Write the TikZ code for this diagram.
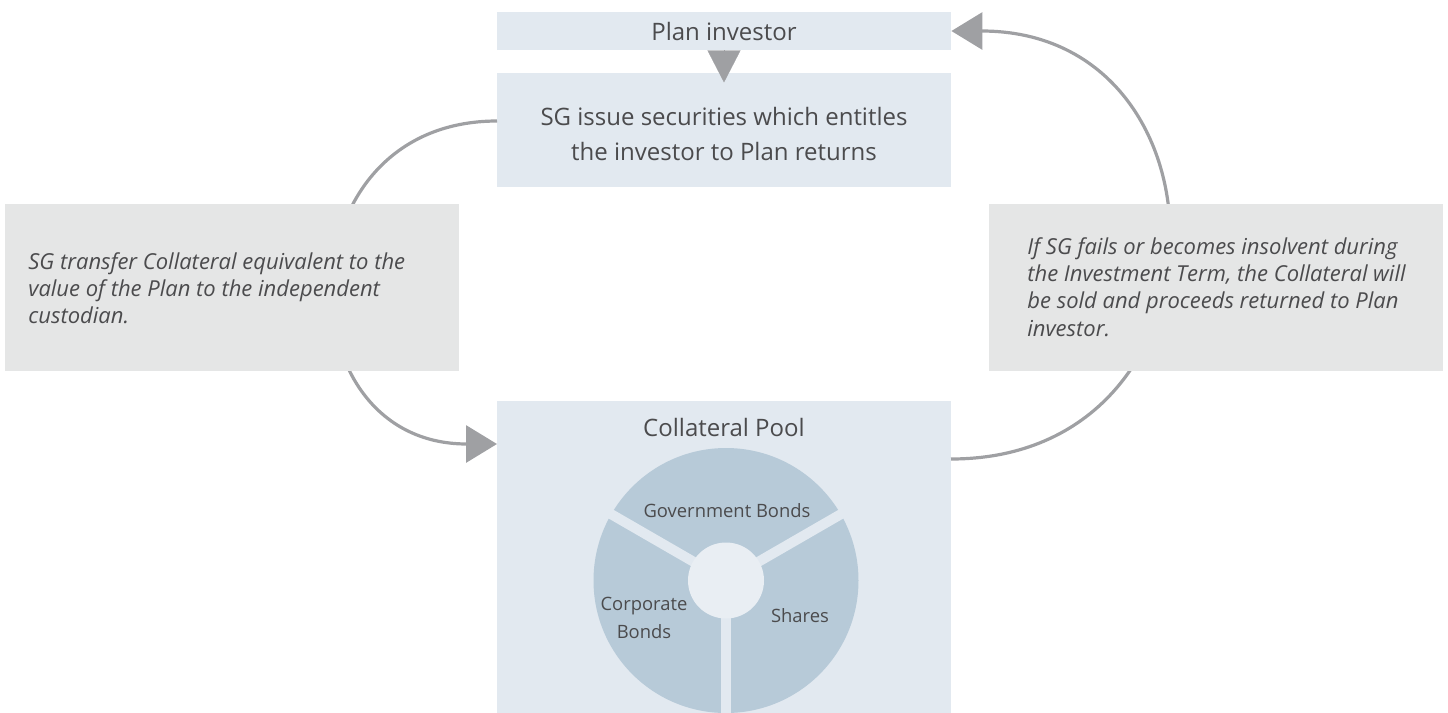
\documentclass[tikz,border=0pt]{standalone}
\usepackage{fontspec}
\setmainfont{Open Sans}
\usetikzlibrary{arrows.meta}

\definecolor{boxblue}{HTML}{E2E9F0}
\definecolor{boxgrey}{HTML}{E5E6E6}
\definecolor{piefill}{HTML}{B7CAD8}
\definecolor{hubfill}{HTML}{E9EEF3}
\definecolor{flowgrey}{HTML}{9FA0A3}
\definecolor{textgrey}{HTML}{4B4B4D}

\begin{document}
\begin{tikzpicture}[x=0.5pt,y=-0.5pt]
\tikzstyle{every node}+=[inner sep=0pt, text=textgrey]
\tikzstyle{bluebox}=[fill=boxblue, minimum width=227pt]
\tikzstyle{greybox}=[fill=boxgrey, minimum width=227pt, minimum height=83.5pt]
\tikzstyle{maintext}=[font=\fontsize{12}{17.5}\selectfont]
\tikzstyle{notetext}=[font=\fontsize{11}{13.6}\selectfont\itshape, align=left]
\tikzstyle{pietext}=[font=\fontsize{9.2}{14}\selectfont, align=center]
\tikzstyle{flow}=[draw=flowgrey, line width=1.6pt, -{Triangle[length=15.5pt,width=18.5pt]}]
\useasboundingbox (0,0) rectangle (1448,713);

% boxes in the middle column
\node[bluebox, minimum height=19pt, maintext] (plan) at (724,31) {Plan investor};
\node[bluebox, minimum height=57pt] (sg) at (724,130) {};
\node[maintext, align=center] (sgtext) at (724,134)
  {SG issue securities which entitles\\the investor to Plan returns};
\node[bluebox, minimum height=156pt] (pool) at (724,556.5) {};
\node[maintext] (pooltitle) at (724,427) {Collateral Pool};

% plan investor -> securities
\draw[draw=flowgrey, line width=0.1pt, -{Triangle[length=16pt,width=16.5pt]}, fill=flowgrey]
  (plan.south) -- ++(0,32);

% loop arrows, the note boxes sit on top of them
\coordinate (sgout) at (497,121);
\coordinate (poolin) at (497,444);
\coordinate (poolout) at (951,459);
\draw[flow] (sgout) .. controls (282,121) and (282,444) .. (poolin);
\draw[flow] (poolout) .. controls (1238,459) and (1238,31) .. (plan.east);

\node[greybox] (transferbox) at (232,287.5) {};
\node[notetext, anchor=west] (transfer) at (28,288)
  {SG transfer Collateral equivalent to the\\value of the Plan to the independent\\custodian.};
\node[greybox] (failbox) at (1216,287.5) {};
\node[notetext, anchor=west] (fail) at (1027,287)
  {If SG fails or becomes insolvent during\\the Investment Term, the Collateral will\\be sold and proceeds returned to Plan\\investor.};

% pie of the collateral pool
\fill[piefill] (726,580.5) circle (132.5);
\foreach \a in {-30,90,210}
  \draw[boxblue, line width=5pt] (726,580.5) -- +(\a:140);
\fill[hubfill] (726,580.5) circle (38);
\node[pietext] (govbonds) at (727,511) {Government Bonds};
\node[pietext] (corpbonds) at (644,618) {Corporate\\Bonds};
\node[pietext] (shares) at (800,616) {Shares};
\end{tikzpicture}
\end{document}
